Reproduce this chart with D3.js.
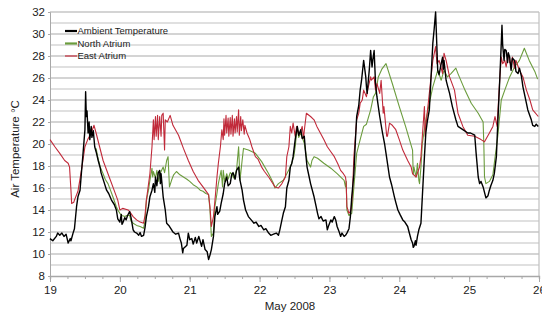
<!DOCTYPE html>
<html lang="en">
<head>
  <meta charset="UTF-8">
  <title>Air Temperature May 2008</title>
  <script src="https://d3js.org/d3.v7.min.js"></script>
  <style>
    body { margin: 0; background: #fff; font-family: "Liberation Sans", Arial, sans-serif; }
    svg { display: block; }
    .axis path, .axis line { stroke: #a8a8a8; }
    .axis text { font-size: 11.5px; fill: #222; font-family: "Liberation Sans", Arial, sans-serif; }
    .legend text { font-size: 9.5px; fill: #222; }
  </style>
</head>
<body>
  <svg width="542" height="315"></svg>

  <script>
    // [day of May 2008, °C]
    const ambient = [
      [19.00,11.4],[19.04,11.2],[19.09,11.6],[19.11,11.9],[19.14,11.7],[19.17,11.9],[19.20,11.6],[19.23,11.8],
      [19.26,11.0],[19.29,11.4],[19.30,11.2],[19.33,11.9],[19.35,12.3],[19.38,14.3],[19.40,15.2],[19.43,15.8],
      [19.45,17.4],[19.47,18.9],[19.50,21.3],[19.51,24.75],[19.52,22.5],[19.53,23.0],[19.545,21.0],[19.56,22.0],
      [19.57,20.4],[19.58,21.0],[19.59,21.6],[19.60,20.6],[19.62,21.2],[19.64,19.75],[19.66,19.3],[19.69,18.5],
      [19.72,17.8],[19.73,17.4],[19.77,16.6],[19.81,15.8],[19.84,15.5],[19.88,14.9],[19.92,14.5],[19.95,14.0],
      [19.97,13.2],[20.00,12.9],[20.02,13.6],[20.03,12.7],[20.04,12.8],[20.07,13.3],[20.09,13.1],[20.11,13.5],
      [20.14,13.85],[20.16,13.3],[20.19,12.2],[20.21,12.0],[20.24,11.9],[20.27,11.7],[20.29,11.95],[20.31,11.6],
      [20.34,11.7],[20.36,12.4],[20.38,13.4],[20.41,14.3],[20.43,15.2],[20.46,15.8],[20.48,16.4],[20.50,15.6],
      [20.51,17.0],[20.53,16.2],[20.55,17.4],[20.57,17.6],[20.58,16.4],[20.59,17.3],[20.62,15.2],[20.65,14.0],
      [20.67,12.8],[20.70,12.6],[20.73,12.3],[20.76,12.0],[20.80,11.8],[20.84,11.9],[20.86,11.4],[20.88,11.0],
      [20.90,10.1],[20.91,10.5],[20.96,10.8],[20.98,11.9],[21.00,11.3],[21.03,11.4],[21.05,10.9],[21.08,11.5],
      [21.10,11.0],[21.13,11.6],[21.17,10.7],[21.19,11.3],[21.22,10.4],[21.25,10.2],[21.27,9.5],[21.29,9.9],
      [21.31,10.4],[21.34,11.6],[21.36,13.4],[21.39,14.3],[21.40,13.6],[21.43,13.9],[21.45,14.6],[21.48,15.5],
      [21.50,16.4],[21.53,17.0],[21.55,16.2],[21.58,16.4],[21.60,17.2],[21.62,17.4],[21.65,16.8],[21.67,17.6],
      [21.70,17.9],[21.71,17.2],[21.72,16.7],[21.75,15.8],[21.77,14.9],[21.80,14.0],[21.84,13.4],[21.88,13.1],
      [21.92,12.8],[21.95,12.9],[21.99,12.5],[22.02,12.6],[22.06,12.2],[22.09,12.3],[22.13,11.9],[22.16,11.7],
      [22.20,11.8],[22.24,11.9],[22.27,11.7],[22.29,12.2],[22.32,13.1],[22.34,13.7],[22.37,14.3],[22.39,16.0],
      [22.42,16.7],[22.44,17.9],[22.46,18.2],[22.48,18.85],[22.51,20.4],[22.54,21.6],[22.56,20.8],[22.59,21.3],
      [22.61,20.5],[22.64,20.7],[22.66,19.15],[22.68,17.9],[22.71,17.0],[22.73,16.4],[22.78,15.2],[22.81,14.3],
      [22.83,13.7],[22.85,13.2],[22.88,13.4],[22.91,13.0],[22.95,13.1],[22.97,12.2],[22.99,12.6],[23.02,13.1],
      [23.04,12.9],[23.07,13.4],[23.09,13.1],[23.11,12.5],[23.14,12.0],[23.16,11.6],[23.18,11.9],[23.21,11.6],
      [23.23,11.7],[23.25,11.9],[23.28,12.3],[23.30,13.4],[23.32,15.2],[23.35,17.3],[23.37,20.05],[23.39,22.5],
      [23.42,23.5],[23.44,24.9],[23.46,25.8],[23.48,27.0],[23.49,27.6],[23.52,26.1],[23.53,25.2],[23.54,24.6],
      [23.57,26.7],[23.59,28.5],[23.61,27.0],[23.62,27.6],[23.64,28.5],[23.66,25.5],[23.68,24.3],[23.70,23.4],
      [23.72,22.5],[23.76,21.0],[23.79,20.0],[23.81,19.15],[23.86,17.0],[23.89,16.3],[23.93,15.2],[23.95,14.7],
      [23.98,14.0],[24.01,13.6],[24.05,13.1],[24.08,12.9],[24.12,12.5],[24.14,12.0],[24.17,11.3],[24.19,11.0],
      [24.20,10.6],[24.21,10.7],[24.23,11.2],[24.24,10.8],[24.26,11.6],[24.28,12.2],[24.31,12.8],[24.33,15.2],
      [24.36,18.85],[24.38,21.0],[24.40,22.0],[24.43,23.1],[24.45,25.5],[24.48,29.15],[24.50,30.5],[24.52,32.0],
      [24.54,28.5],[24.55,26.7],[24.57,26.3],[24.60,27.3],[24.62,27.9],[24.63,26.8],[24.64,27.6],[24.67,25.8],
      [24.69,25.3],[24.72,24.6],[24.76,23.4],[24.81,22.2],[24.84,21.6],[24.91,21.3],[24.98,21.0],[25.02,21.0],
      [25.08,20.8],[25.10,19.15],[25.13,17.0],[25.15,16.4],[25.17,16.6],[25.20,16.1],[25.22,15.6],[25.24,15.1],
      [25.27,15.3],[25.29,15.8],[25.31,16.2],[25.34,16.7],[25.36,17.3],[25.39,18.85],[25.41,21.9],[25.44,26.1],
      [25.46,29.15],[25.47,30.8],[25.48,29.0],[25.50,27.6],[25.51,28.6],[25.53,28.5],[25.55,27.4],[25.56,28.3],
      [25.58,27.9],[25.60,26.7],[25.62,27.8],[25.65,27.6],[25.67,26.6],[25.70,26.4],[25.72,26.9],[25.75,26.1],
      [25.77,25.2],[25.79,24.6],[25.84,23.1],[25.89,22.2],[25.91,21.7],[25.94,21.6],[25.96,21.8],[25.99,21.6]
    ];

    const northAtrium = [
      [19.66,19.6],[19.69,18.6],[19.72,17.9],[19.76,17.3],[19.79,16.8],[19.83,16.4],[19.86,15.9],[19.90,15.2],
      [19.95,14.3],[19.97,14.0],[20.00,13.7],[20.03,13.5],[20.07,13.4],[20.10,13.5],[20.14,13.5],[20.16,13.0],
      [20.19,12.8],[20.24,12.6],[20.29,12.5],[20.34,12.35],[20.36,13.0],[20.38,14.9],[20.41,15.8],[20.43,16.7],
      [20.46,17.8],[20.47,17.0],[20.48,17.5],[20.51,16.9],[20.53,17.6],[20.55,16.6],[20.57,17.2],[20.59,17.5],
      [20.62,17.9],[20.64,17.4],[20.67,18.5],[20.69,18.85],[20.71,16.1],[20.74,16.7],[20.77,17.2],[20.81,17.5],
      [20.86,17.2],[20.91,17.0],[20.96,16.8],[21.00,16.6],[21.05,16.3],[21.10,16.1],[21.15,15.8],[21.19,15.7],
      [21.23,15.5],[21.27,15.4],[21.29,14.0],[21.31,11.6],[21.34,11.9],[21.36,14.3],[21.39,15.5],[21.41,16.4],
      [21.43,17.0],[21.45,17.6],[21.47,16.1],[21.48,17.6],[21.50,16.6],[21.53,17.3],[21.55,16.8],[21.58,17.4],
      [21.60,17.3],[21.63,16.9],[21.67,17.6],[21.70,19.75],[21.72,16.7],[21.75,18.5],[21.77,19.6],[21.84,19.45],
      [21.94,19.15],[22.03,18.4],[22.13,17.3],[22.20,16.4],[22.22,16.0],[22.27,16.4],[22.34,16.7],[22.39,17.3],
      [22.44,17.9],[22.49,18.85],[22.51,19.75],[22.54,21.6],[22.56,20.6],[22.59,21.0],[22.64,20.05],[22.68,18.5],
      [22.73,17.9],[22.75,18.5],[22.78,18.85],[22.83,18.7],[22.92,18.25],[23.02,17.8],[23.11,17.3],[23.21,16.7],
      [23.23,16.1],[23.24,16.6],[23.25,14.0],[23.28,13.5],[23.32,13.7],[23.35,16.1],[23.39,19.15],[23.44,20.4],
      [23.49,21.6],[23.53,21.8],[23.59,23.1],[23.63,24.3],[23.66,24.6],[23.70,26.1],[23.75,26.8],[23.81,27.3],
      [23.90,25.5],[24.00,23.4],[24.09,21.6],[24.19,19.45],[24.20,17.2],[24.21,17.9],[24.24,17.0],[24.26,18.25],
      [24.28,16.7],[24.29,16.4],[24.31,17.9],[24.33,20.05],[24.38,22.2],[24.43,23.7],[24.48,25.2],[24.55,26.7],
      [24.60,25.8],[24.64,26.7],[24.69,26.1],[24.74,26.4],[24.81,26.9],[24.84,26.4],[24.94,24.9],[25.03,23.7],
      [25.13,22.8],[25.20,22.0],[25.21,20.05],[25.22,17.0],[25.24,16.4],[25.29,16.6],[25.34,17.2],[25.36,18.25],
      [25.41,20.7],[25.46,24.0],[25.51,24.9],[25.58,26.1],[25.65,27.0],[25.72,27.6],[25.79,28.7],[25.86,27.6],
      [25.94,26.6],[25.98,25.9]
    ];

    const eastAtrium = [
      [19.00,20.4],[19.07,19.75],[19.14,19.15],[19.21,18.5],[19.26,18.25],[19.28,17.9],[19.30,15.8],[19.31,14.6],
      [19.34,14.7],[19.35,14.9],[19.40,15.7],[19.45,17.6],[19.50,19.75],[19.54,20.4],[19.59,21.0],[19.63,21.7],
      [19.66,21.0],[19.71,19.75],[19.76,18.5],[19.83,17.3],[19.90,16.1],[19.97,14.9],[20.00,14.0],[20.04,14.15],
      [20.12,14.0],[20.14,13.85],[20.19,13.4],[20.24,13.1],[20.29,12.9],[20.34,12.8],[20.36,13.5],[20.38,14.9],
      [20.43,17.3],[20.46,19.75],[20.48,22.2],[20.49,20.4],[20.51,22.5],[20.52,20.7],[20.54,22.6],[20.55,20.4],
      [20.57,22.5],[20.59,20.7],[20.60,22.6],[20.62,22.8],[20.64,19.45],[20.65,22.2],[20.68,22.0],[20.72,22.6],
      [20.76,21.7],[20.84,20.8],[20.91,19.6],[20.98,18.5],[21.05,17.5],[21.12,16.7],[21.19,16.1],[21.27,15.4],
      [21.29,14.3],[21.31,12.5],[21.34,13.4],[21.37,15.5],[21.39,17.0],[21.41,18.25],[21.44,19.8],[21.46,21.3],
      [21.48,20.4],[21.49,22.3],[21.50,20.8],[21.52,22.6],[21.53,21.0],[21.55,22.35],[21.56,20.7],[21.58,22.4],
      [21.59,20.9],[21.61,22.6],[21.62,20.7],[21.64,22.3],[21.65,21.0],[21.67,22.5],[21.68,21.1],[21.70,23.1],
      [21.71,20.8],[21.73,22.5],[21.74,21.2],[21.76,22.2],[21.78,20.9],[21.79,21.7],[21.82,21.0],[21.84,20.7],
      [21.86,20.4],[21.89,19.75],[21.94,18.85],[21.98,18.6],[22.03,17.9],[22.07,17.5],[22.13,17.0],[22.18,16.5],
      [22.22,16.1],[22.27,16.0],[22.32,16.4],[22.37,17.0],[22.39,18.85],[22.42,19.75],[22.44,21.6],[22.46,21.0],
      [22.48,21.9],[22.51,20.7],[22.53,21.6],[22.56,20.9],[22.58,21.0],[22.61,21.6],[22.63,20.5],[22.64,21.2],
      [22.67,22.8],[22.73,22.5],[22.78,22.2],[22.82,21.6],[22.87,21.0],[22.92,20.4],[22.97,19.75],[23.02,19.3],
      [23.07,18.85],[23.12,18.2],[23.16,17.6],[23.20,17.3],[23.23,17.0],[23.24,16.5],[23.25,14.3],[23.28,13.7],
      [23.31,14.0],[23.33,15.5],[23.35,18.85],[23.37,20.5],[23.39,22.2],[23.42,22.8],[23.44,23.7],[23.47,24.0],
      [23.49,24.9],[23.53,24.3],[23.55,25.0],[23.59,26.1],[23.60,25.8],[23.64,26.1],[23.66,24.9],[23.68,25.5],
      [23.72,24.6],[23.74,25.8],[23.77,22.8],[23.78,23.4],[23.82,20.7],[23.83,20.7],[23.86,21.9],[23.90,21.7],
      [23.95,21.3],[24.00,20.4],[24.05,19.45],[24.12,18.5],[24.17,17.9],[24.19,17.3],[24.24,17.0],[24.29,17.9],
      [24.31,18.85],[24.33,20.7],[24.36,23.4],[24.37,20.7],[24.38,21.6],[24.43,24.6],[24.48,27.6],[24.52,28.85],
      [24.54,27.3],[24.57,27.6],[24.62,26.4],[24.64,28.25],[24.67,27.6],[24.72,26.1],[24.79,24.9],[24.84,22.8],
      [24.91,21.6],[24.98,20.8],[25.08,20.7],[25.17,20.4],[25.22,20.2],[25.29,21.0],[25.34,21.6],[25.37,22.5],
      [25.40,21.6],[25.44,26.1],[25.46,27.9],[25.48,27.3],[25.51,27.6],[25.53,27.0],[25.56,28.25],[25.58,27.4],
      [25.60,27.3],[25.62,27.9],[25.65,26.9],[25.67,27.6],[25.72,26.7],[25.77,26.1],[25.82,24.9],[25.87,24.0],
      [25.91,23.1],[25.99,22.5]
    ];

    const seriesNames = ["Ambient Temperature", "North Atrium", "East Atrium"];
    const dayTicks = [19, 20, 21, 22, 23, 24, 25, 26];
    const tempTicks = [8, 10, 12, 14, 16, 18, 20, 22, 24, 26, 28, 30, 32];

    const svg = d3.select("svg");
    const plotLeft = 50, plotRight = 539, plotTop = 12, plotBottom = 276;

    const x = d3.scaleLinear().domain([19, 26]).range([plotLeft, plotRight]);
    const y = d3.scaleLinear().domain([8, 32]).range([plotBottom, plotTop]);

    // gridlines every degree
    svg.append("g")
      .selectAll("line")
      .data(d3.range(9, 33))
      .join("line")
        .attr("x1", plotLeft).attr("x2", plotRight)
        .attr("y1", d => y(d)).attr("y2", d => y(d))
        .attr("stroke", d => d % 2 ? "#d6d6d6" : "#c6c6c6")
        .attr("stroke-width", 1.6);

    // right border
    svg.append("line")
      .attr("x1", plotRight).attr("x2", plotRight).attr("y1", plotTop).attr("y2", plotBottom)
      .attr("stroke", "#c0c0c0").attr("stroke-width", 1.2);

    // y axis
    svg.append("g")
      .attr("class", "axis")
      .attr("transform", `translate(${plotLeft},0)`)
      .call(d3.axisLeft(y).tickValues(tempTicks).tickSize(2).tickPadding(3))
      .call(g => g.select(".domain").attr("stroke", "#a8a8a8"));

    // x axis, major and quarter-day minor ticks
    svg.append("g")
      .attr("class", "axis")
      .attr("transform", `translate(0,${plotBottom})`)
      .call(d3.axisBottom(x).tickValues(d3.range(19, 26.01, 0.25)).tickSize(3).tickFormat(""))
      .call(g => g.select(".domain").attr("stroke", "#a8a8a8").attr("stroke-width", 1.4));
    svg.append("g")
      .attr("class", "axis")
      .attr("transform", `translate(0,${plotBottom})`)
      .call(d3.axisBottom(x).tickValues(dayTicks).tickSize(6).tickPadding(4).tickFormat(d3.format("d")))
      .call(g => g.select(".domain").remove());

    svg.append("text")
      .attr("x", 290).attr("y", 310)
      .attr("text-anchor", "middle")
      .attr("font-size", 11.5).attr("fill", "#222")
      .text("May 2008");

    svg.append("text")
      .attr("transform", `translate(19,149) rotate(-90)`)
      .attr("text-anchor", "middle")
      .attr("font-size", 11.5).attr("fill", "#222")
      .text("Air Temperature  °C");

    // lines
    const line = d3.line().x(d => x(d[0])).y(d => y(d[1]));
    const series = [
      { data: northAtrium, color: "#6b9c3d", width: 1.1 },
      { data: eastAtrium, color: "#c12a3a", width: 1.1 },
      { data: ambient, color: "#000", width: 1.4 }
    ];
    svg.append("g")
      .attr("fill", "none")
      .selectAll("path")
      .data(series)
      .join("path")
        .attr("d", d => line(d.data))
        .attr("stroke", d => d.color)
        .attr("stroke-width", d => d.width)
        .attr("stroke-linejoin", "round");

    // legend
    const legendColors = ["#000", "#6b9c3d", "#c12a3a"];
    const legendWidths = [2.2, 2.2, 1.2];
    const legend = svg.append("g")
      .attr("class", "legend")
      .selectAll("g")
      .data(seriesNames)
      .join("g")
        .attr("transform", (d, i) => `translate(65,${31 + i * 12.5})`);
    legend.append("line")
      .attr("x1", 0).attr("x2", 12)
      .attr("stroke", (d, i) => legendColors[i])
      .attr("stroke-width", (d, i) => legendWidths[i]);
    legend.append("text")
      .attr("x", 12.5).attr("dy", "0.35em")
      .text(d => d);
  </script>
</body>
</html>
